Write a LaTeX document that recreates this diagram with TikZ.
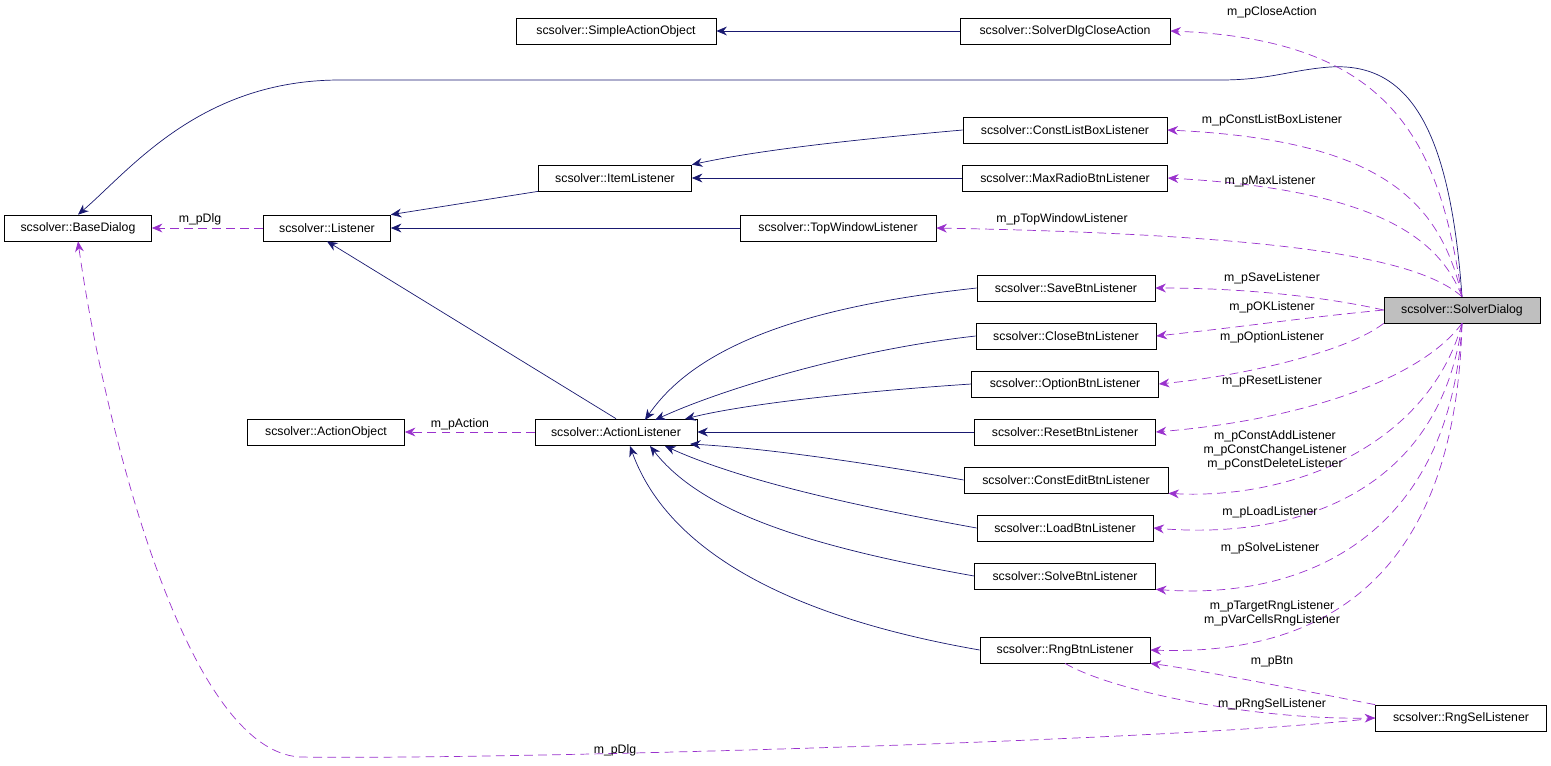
\documentclass[tikz,border=0pt]{standalone}
\usepackage{fontspec}
\setmainfont{Liberation Sans}
\usetikzlibrary{arrows.meta}
\definecolor{navyedge}{HTML}{191970}
\definecolor{useedge}{HTML}{9A32CD}
\begin{document}
\begin{tikzpicture}[x=0.02cm, y=-0.02cm,
  font=\fontsize{7}{8}\selectfont,
  cls/.style={draw, fill=white, minimum height=0.52cm, inner sep=2pt},
  inh/.style={navyedge, -{Stealth[length=6pt,width=5pt]}},
  use/.style={useedge, dashed, dash pattern=on 5pt off 3pt, -{Stealth[length=6pt,width=5pt]}},
  lbl/.style={inner sep=0pt, align=center, font=\fontsize{7}{8}\selectfont}]

\useasboundingbox (0,0) rectangle (1551,765);

% classes
\node[cls, minimum width=4cm] (sao) at (616,31) {scsolver::SimpleActionObject};
\node[cls, minimum width=4.2cm] (dca) at (1065,31) {scsolver::SolverDlgCloseAction};
\node[cls, minimum width=2.94cm] (bd) at (78,228) {scsolver::BaseDialog};
\node[cls, minimum width=2.54cm] (ls) at (327,228) {scsolver::Listener};
\node[cls, minimum width=3.06cm] (il) at (615,178) {scsolver::ItemListener};
\node[cls, minimum width=4.08cm] (clb) at (1065,130) {scsolver::ConstListBoxListener};
\node[cls, minimum width=4.1cm] (mrb) at (1065,178) {scsolver::MaxRadioBtnListener};
\node[cls, minimum width=3.92cm] (twl) at (838,228) {scsolver::TopWindowListener};
\node[cls, minimum width=3.56cm] (sbl) at (1066,288) {scsolver::SaveBtnListener};
\node[cls, minimum width=3.12cm, fill=black!25] (sd) at (1462,310) {scsolver::SolverDialog};
\node[cls, minimum width=3.6cm] (cbl) at (1066,336) {scsolver::CloseBtnListener};
\node[cls, minimum width=3.74cm] (obl) at (1065,384) {scsolver::OptionBtnListener};
\node[cls, minimum width=3.62cm] (rbl) at (1065,432) {scsolver::ResetBtnListener};
\node[cls, minimum width=3.14cm] (ao) at (326,432) {scsolver::ActionObject};
\node[cls, minimum width=3.24cm] (al) at (616,432) {scsolver::ActionListener};
\node[cls, minimum width=4.08cm] (ceb) at (1066,480) {scsolver::ConstEditBtnListener};
\node[cls, minimum width=3.52cm] (lbl) at (1065,528) {scsolver::LoadBtnListener};
\node[cls, minimum width=3.62cm] (svb) at (1065,576) {scsolver::SolveBtnListener};
\node[cls, minimum width=3.4cm] (rng) at (1065,650) {scsolver::RngBtnListener};
\node[cls, minimum width=3.42cm] (rsl) at (1461,718) {scsolver::RngSelListener};

% inheritance
\draw[inh] (dca) -- (sao);
\draw[inh] (sd.north) .. controls (1450,130) and (1410,62) .. (1330,67) .. controls (1290,70) and (1270,80) .. (1220,80) -- (340,80) .. controls (200,80) and (130,170) .. (bd.north);
\draw[inh] (clb.west) .. controls (850,140) and (760,150) .. (il.north east);
\draw[inh] (mrb) -- (il);
\draw[inh] (il.south west) -- (ls.north east);
\draw[inh] (twl) -- (ls);
\draw[inh] (al.north) -- (ls.south);
\draw[inh] (sbl.west) .. controls (820,305) and (700,340) .. (645,420);
\draw[inh] (cbl.west) .. controls (850,350) and (720,390) .. (655,420);
\draw[inh] (obl.west) .. controls (850,392) and (740,405) .. (685,419);
\draw[inh] (rbl) -- (al);
\draw[inh] (ceb.west) .. controls (850,460) and (760,448) .. (690,444);
\draw[inh] (lbl.west) .. controls (850,505) and (740,480) .. (665,446);
\draw[inh] (svb.west) .. controls (800,545) and (700,510) .. (650,446);
\draw[inh] (rng.west) .. controls (750,610) and (660,530) .. (630,446);

% usage
\draw[use] (ls) -- (bd);
\node[lbl] at (200,219) {m\_pDlg};
\draw[use] (al) -- (ao);
\node[lbl] at (460,424) {m\_pAction};
\draw[use] (sd.north) .. controls (1440,150) and (1400,40) .. (dca.east);
\node[lbl] at (1272,12) {m\_pCloseAction};
\draw[use] (sd.north) .. controls (1440,200) and (1380,140) .. (clb.east);
\node[lbl] at (1272,120) {m\_pConstListBoxListener};
\draw[use] (sd.north) .. controls (1440,240) and (1380,190) .. (mrb.east);
\node[lbl] at (1270,181) {m\_pMaxListener};
\draw[use] (sd.north) .. controls (1420,260) and (1300,235) .. (twl.east);
\node[lbl] at (1062,219) {m\_pTopWindowListener};
\draw[use] (sd.west) .. controls (1330,298) and (1250,288) .. (sbl.east);
\node[lbl] at (1272,278) {m\_pSaveListener};
\draw[use] (sd.west) .. controls (1300,318) and (1250,326) .. (cbl.east);
\node[lbl] at (1272,307) {m\_pOKListener};
\draw[use] (sd.south west) .. controls (1350,350) and (1250,375) .. (obl.east);
\node[lbl] at (1272,337) {m\_pOptionListener};
\draw[use] (sd.south) .. controls (1420,380) and (1300,420) .. (rbl.east);
\node[lbl] at (1272,381) {m\_pResetListener};
\draw[use] (sd.south) .. controls (1430,440) and (1300,500) .. (ceb.south east);
\node[lbl] at (1275,450) {m\_pConstAddListener\\m\_pConstChangeListener\\m\_pConstDeleteListener};
\draw[use] (sd.south) .. controls (1440,490) and (1300,540) .. (lbl.east);
\node[lbl] at (1270,512) {m\_pLoadListener};
\draw[use] (sd.south) .. controls (1450,540) and (1300,600) .. (svb.south east);
\node[lbl] at (1270,548) {m\_pSolveListener};
\draw[use] (sd.south) .. controls (1455,600) and (1300,655) .. (rng.east);
\node[lbl] at (1272,613) {m\_pTargetRngListener\\m\_pVarCellsRngListener};
\draw[use] (rsl.north west) .. controls (1300,690) and (1200,670) .. (rng.south east);
\node[lbl] at (1272,662) {m\_pBtn};
\draw[use] (rng.south) .. controls (1110,690) and (1250,720) .. (rsl.west);
\node[lbl] at (1272,704) {m\_pRngSelListener};
\draw[use] (rsl.west) .. controls (1200,740) and (500,760) .. (300,757) .. controls (180,750) and (100,400) .. (bd.south);
\node[lbl] at (615,750) {m\_pDlg};
\end{tikzpicture}
\end{document}
